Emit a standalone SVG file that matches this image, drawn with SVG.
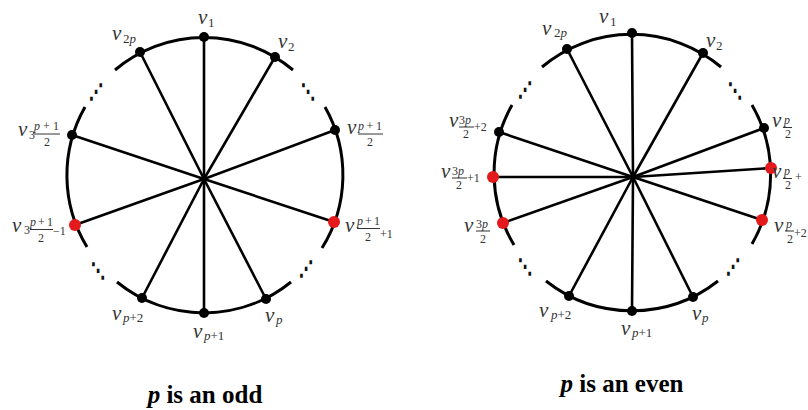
<svg xmlns="http://www.w3.org/2000/svg" width="808" height="410" viewBox="0 0 808 410">
<style>
.arc{fill:none;stroke:#000;stroke-width:3;stroke-linecap:butt}
.sp{stroke:#000;stroke-width:2.6;stroke-linecap:round}
.nd{fill:#000}
.rd{fill:#e3191c}
.v{font-family:"Liberation Serif",serif;font-style:italic;font-size:21px;fill:#333}
.s{font-family:"Liberation Serif",serif;font-size:13px;fill:#333}
.f{font-family:"Liberation Serif",serif;font-size:12px;fill:#333}
.m{text-anchor:middle}
.i{font-style:italic}
.bar{stroke:#333;stroke-width:1}
.dots{font-family:"DejaVu Sans",sans-serif;font-size:17px;fill:#111;stroke:#111;stroke-width:1.5;text-anchor:middle;dominant-baseline:central}
.cap{font-family:"Liberation Serif",serif;font-weight:bold;font-size:25px;fill:#000;text-anchor:middle}
</style>
<rect width="808" height="410" fill="#fff"/>

<!-- LEFT: p odd -->
<g id="left-rim">
<path class="arc" d="M115,70 A138,138 0 0 1 293,70"/>
<path class="arc" d="M85,107 A138,138 0 0 0 87,247"/>
<path class="arc" d="M325,107 A138,138 0 0 1 322,248"/>
<path class="arc" d="M117,282 A138,138 0 0 0 291,282"/>
<text class="dots" transform="translate(96,91) scale(0.8,1.15)">⋰</text>
<text class="dots" transform="translate(308,91) scale(0.8,1.15)">⋱</text>
<text class="dots" transform="translate(98,270) scale(0.8,1.15)">⋱</text>
<text class="dots" transform="translate(306,268) scale(0.8,1.15)">⋰</text>
</g>
<g id="left-connectors">
<line class="sp" x1="204" y1="179" x2="204" y2="37"/>
<line class="sp" x1="204" y1="179" x2="140" y2="52"/>
<line class="sp" x1="204" y1="179" x2="275" y2="57"/>
<line class="sp" x1="204" y1="179" x2="72" y2="135"/>
<line class="sp" x1="204" y1="179" x2="335" y2="130"/>
<line class="sp" x1="204" y1="179" x2="75" y2="225"/>
<line class="sp" x1="204" y1="179" x2="334" y2="222"/>
<line class="sp" x1="204" y1="179" x2="142" y2="298"/>
<line class="sp" x1="204" y1="179" x2="204" y2="313"/>
<line class="sp" x1="204" y1="179" x2="266" y2="299"/>
</g>
<g id="L-v1"><circle class="nd" cx="204" cy="37" r="5"/><text class="v" x="198" y="24">v</text><text class="s" x="208" y="27">1</text></g>
<g id="L-v2p"><circle class="nd" cx="140" cy="52" r="5"/><text class="v" x="112" y="40">v</text><text class="s" x="123" y="43">2<tspan class="i">p</tspan></text></g>
<g id="L-v2"><circle class="nd" cx="275" cy="57" r="5"/><text class="v" x="278" y="48">v</text><text class="s" x="288" y="51">2</text></g>
<g id="L-v3p12"><circle class="nd" cx="72" cy="135" r="5"/><text class="v" x="18" y="136">v</text><text class="f" x="29" y="139" font-size="11">3</text><text class="f" x="34" y="130" textLength="25" lengthAdjust="spacing"><tspan class="i">p</tspan>+1</text><line class="bar" x1="34" y1="134" x2="60" y2="134"/><text class="f m" x="47" y="146">2</text></g>
<g id="L-vp12"><circle class="nd" cx="335" cy="130" r="5"/><text class="v" x="347" y="134">v</text><text class="f" x="358" y="130" textLength="24" lengthAdjust="spacing"><tspan class="i">p</tspan>+1</text><line class="bar" x1="358" y1="134" x2="383" y2="134"/><text class="f m" x="370" y="146">2</text></g>
<g id="L-v3p12m1"><circle class="rd" cx="75" cy="225" r="6"/><text class="v" x="12" y="232">v</text><text class="f" x="24" y="234" font-size="11">3</text><text class="f" x="30" y="226" textLength="23" lengthAdjust="spacing"><tspan class="i">p</tspan>+1</text><line class="bar" x1="30" y1="229.5" x2="53" y2="229.5"/><text class="f m" x="41" y="242">2</text><text class="f" x="53" y="235">−1</text></g>
<g id="L-vp12p1"><circle class="rd" cx="334" cy="222" r="6"/><text class="v" x="345" y="232">v</text><text class="f" x="357" y="225" textLength="23" lengthAdjust="spacing"><tspan class="i">p</tspan>+1</text><line class="bar" x1="357" y1="228.5" x2="380" y2="228.5"/><text class="f m" x="368" y="241">2</text><text class="f" x="380" y="238">+1</text></g>
<g id="L-vp2"><circle class="nd" cx="142" cy="298" r="5"/><text class="v" x="112" y="320">v</text><text class="s" x="123" y="322"><tspan class="i">p</tspan>+2</text></g>
<g id="L-vp1"><circle class="nd" cx="204" cy="313" r="5"/><text class="v" x="193" y="338">v</text><text class="s" x="204" y="340"><tspan class="i">p</tspan>+1</text></g>
<g id="L-vp"><circle class="nd" cx="266" cy="299" r="5"/><text class="v" x="265" y="322">v</text><text class="s i" x="276" y="324">p</text></g>
<text id="cap-odd" class="cap" x="205" y="403"><tspan class="i">p</tspan> is an odd</text>

<!-- RIGHT: p even -->
<g id="right-rim">
<path class="arc" d="M542,67 A139,139 0 0 1 721,67"/>
<path class="arc" d="M512,105 A139,139 0 0 0 514,245"/>
<path class="arc" d="M752,105 A139,139 0 0 1 752,244"/>
<path class="arc" d="M546,281 A139,139 0 0 0 718,281"/>
<text class="dots" transform="translate(525,89) scale(0.8,1.15)">⋰</text>
<text class="dots" transform="translate(735,90) scale(0.8,1.15)">⋱</text>
<text class="dots" transform="translate(525,266) scale(0.8,1.15)">⋱</text>
<text class="dots" transform="translate(733,266) scale(0.8,1.15)">⋰</text>
</g>
<g id="right-connectors">
<line class="sp" x1="633" y1="177" x2="632" y2="33"/>
<line class="sp" x1="633" y1="177" x2="567" y2="49"/>
<line class="sp" x1="633" y1="177" x2="703" y2="53"/>
<line class="sp" x1="633" y1="177" x2="499" y2="132"/>
<line class="sp" x1="633" y1="177" x2="764" y2="128"/>
<line class="sp" x1="633" y1="177" x2="493" y2="177"/>
<line class="sp" x1="633" y1="177" x2="771" y2="168"/>
<line class="sp" x1="633" y1="177" x2="503" y2="223"/>
<line class="sp" x1="633" y1="177" x2="762" y2="220"/>
<line class="sp" x1="633" y1="177" x2="569" y2="296"/>
<line class="sp" x1="633" y1="177" x2="632" y2="311"/>
<line class="sp" x1="633" y1="177" x2="693" y2="297"/>
</g>
<g id="R-v1"><circle class="nd" cx="632" cy="33" r="5"/><text class="v" x="599" y="23">v</text><text class="s" x="610" y="26">1</text></g>
<g id="R-v2p"><circle class="nd" cx="567" cy="49" r="5"/><text class="v" x="542" y="35">v</text><text class="s" x="554" y="37">2<tspan class="i">p</tspan></text></g>
<g id="R-v2"><circle class="nd" cx="703" cy="53" r="5"/><text class="v" x="706" y="47">v</text><text class="s" x="716" y="50">2</text></g>
<g id="R-v3p2p2"><circle class="nd" cx="499" cy="132" r="5"/><text class="v" x="449" y="127">v</text><text class="f" x="459" y="124">3<tspan class="i">p</tspan></text><line class="bar" x1="459" y1="127" x2="474" y2="127"/><text class="f m" x="466" y="138">2</text><text class="f" x="474" y="131">+2</text></g>
<g id="R-v3p2p1"><circle class="rd" cx="493" cy="177" r="6"/><text class="v" x="441" y="178">v</text><text class="f" x="452" y="175">3<tspan class="i">p</tspan></text><line class="bar" x1="452" y1="178" x2="467" y2="178"/><text class="f m" x="459" y="189">2</text><text class="f" x="467" y="182">+1</text></g>
<g id="R-v3p2"><circle class="rd" cx="503" cy="223" r="6"/><text class="v" x="464" y="232">v</text><text class="f" x="476" y="228">3<tspan class="i">p</tspan></text><line class="bar" x1="476" y1="231" x2="490" y2="231"/><text class="f m" x="483" y="243">2</text></g>
<g id="R-vp2"><circle class="nd" cx="764" cy="128" r="5"/><text class="v" x="772" y="127">v</text><text class="f i" x="784" y="124">p</text><line class="bar" x1="783" y1="127.5" x2="792" y2="127.5"/><text class="f m" x="788" y="138">2</text></g>
<g id="R-vp2p1"><circle class="rd" cx="771" cy="168" r="6"/><text class="v" x="772" y="178">v</text><text class="f i" x="784" y="175">p</text><line class="bar" x1="783" y1="178.5" x2="792" y2="178.5"/><text class="f m" x="788" y="189">2</text><text class="f" x="795" y="181">+</text></g>
<g id="R-vp2p2"><circle class="rd" cx="762" cy="220" r="6"/><text class="v" x="774" y="232">v</text><text class="f i" x="786" y="228">p</text><line class="bar" x1="785" y1="231" x2="794" y2="231"/><text class="f m" x="790" y="243">2</text><text class="f" x="794" y="237">+2</text></g>
<g id="R-vpp2"><circle class="nd" cx="569" cy="296" r="5"/><text class="v" x="539" y="317">v</text><text class="s" x="551" y="319"><tspan class="i">p</tspan>+2</text></g>
<g id="R-vpp1"><circle class="nd" cx="632" cy="311" r="5"/><text class="v" x="621" y="335">v</text><text class="s" x="632" y="337"><tspan class="i">p</tspan>+1</text></g>
<g id="R-vp"><circle class="nd" cx="693" cy="297" r="5"/><text class="v" x="692" y="320">v</text><text class="s i" x="702" y="322">p</text></g>
<text id="cap-even" class="cap" x="622" y="392"><tspan class="i">p</tspan> is an even</text>
</svg>
